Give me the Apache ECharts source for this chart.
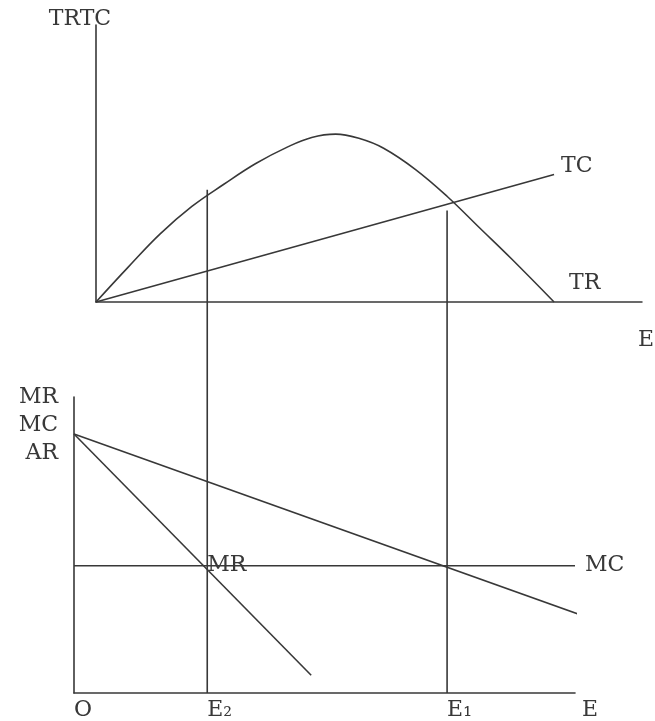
<!DOCTYPE html>
<html>
<head>
<meta charset="utf-8">
<script src="https://cdn.jsdelivr.net/npm/echarts@6/dist/echarts.min.js"></script>
<style>
  html, body { margin: 0; padding: 0; background: #fff; }
  #chart { width: 655px; height: 721px; }
</style>
</head>
<body>
<div id="chart"></div>
<script>
// top panel: total revenue and total cost against effort E
const trEffort = [0, 1.2, 2.4, 3.6, 4.8, 6, 7.2, 8.1, 9, 9.9, 10.8, 12, 13.2, 14.4, 15.6, 17.2]
const trValue = [0, 1.25, 2.45, 3.45, 4.25, 5, 5.6, 5.94, 6.06, 5.9, 5.55, 4.78, 3.8, 2.68, 1.56, 0]
const tcEffort = [0, 17.2]
const tcValue = [0, 4.6]

// bottom panel: marginal and average curves
const arEffort = [0, 19.6]
const arValue = [8.75, 2.45]
const mrEffort = [0, 8.9]
const mrValue = [8.75, 0.6]
const mcEffort = [0, 18.8]
const mcValue = [4.3, 4.3]

// E2 and E1 guides, in bottom-panel units, running up into the top panel
const eGuides = [5, 14]
const eGuideTops = [17.0, 16.3]
const eTickValues = [0, 5, 14]
const eTickLabels = ['O', 'E₂', 'E₁']

const ink = '#383838'
const font = 'DejaVu Serif'
const pairs = (xs, ys) => xs.map((x, i) => [x, ys[i]])

const plainAxis = {
  type: 'value',
  axisLine: { onZero: false, lineStyle: { color: ink, width: 1.6 } },
  axisTick: { show: false },
  axisLabel: { show: false },
  splitLine: { show: false }
}

const curve = (name, xs, ys, grid, extra) => Object.assign({
  name,
  type: 'line',
  xAxisIndex: grid,
  yAxisIndex: grid,
  data: pairs(xs, ys),
  symbol: 'none',
  silent: true,
  clip: false,
  lineStyle: { color: ink, width: 1.6 }
}, extra)

const endLabel = (text, distance, dy) => ({
  show: true,
  formatter: text,
  distance,
  offset: [0, dy],
  color: ink,
  fontFamily: font,
  fontSize: 22
})

const chart = echarts.init(document.getElementById('chart'))

chart.setOption({
  animation: false,
  grid: [
    { left: 96, top: 25, width: 546, height: 277 },
    { left: 74, top: 397, width: 501, height: 298 }
  ],
  xAxis: [
    {
      ...plainAxis,
      gridIndex: 0,
      min: 0,
      max: 20.5,
      name: 'E',
      nameLocation: 'end',
      nameGap: -4,
      nameTextStyle: { color: ink, fontFamily: font, fontSize: 22, align: 'left', verticalAlign: 'top', padding: [27, 0, 0, 0] }
    },
    {
      ...plainAxis,
      gridIndex: 1,
      min: 0,
      max: 18.8,
      name: 'E',
      nameLocation: 'end',
      nameGap: 7,
      nameTextStyle: { color: ink, fontFamily: font, fontSize: 22, align: 'left', verticalAlign: 'top', padding: [6, 0, 0, 0] },
      axisLabel: {
        show: true,
        customValues: eTickValues,
        formatter: v => eTickLabels[eTickValues.indexOf(v)],
        align: 'left',
        margin: 6,
        color: ink,
        fontFamily: font,
        fontSize: 22
      }
    }
  ],
  yAxis: [
    {
      ...plainAxis,
      gridIndex: 0,
      min: 0,
      max: 10,
      name: 'TRTC',
      nameLocation: 'end',
      nameGap: -5,
      nameTextStyle: { color: ink, fontFamily: font, fontSize: 22, align: 'center', verticalAlign: 'bottom', padding: [0, 32, 0, 0] }
    },
    {
      ...plainAxis,
      gridIndex: 1,
      min: 0,
      max: 10,
      name: 'MR\nMC\nAR',
      nameLocation: 'end',
      nameGap: 14,
      nameTextStyle: { color: ink, fontFamily: font, fontSize: 22, lineHeight: 28, align: 'right', verticalAlign: 'top', padding: [0, 16, 0, 0] }
    }
  ],
  series: [
    curve('TR', trEffort, trValue, 0, { smooth: 0.4, endLabel: endLabel('TR', 15, -19) }),
    curve('TC', tcEffort, tcValue, 0, { endLabel: endLabel('TC', 7, -8) }),
    curve('AR', arEffort, arValue, 1),
    curve('MR', mrEffort, mrValue, 1, {
      markPoint: {
        symbol: 'circle',
        symbolSize: 0,
        silent: true,
        data: [{ coord: [eGuides[0], mcValue[0]] }],
        label: { show: true, formatter: 'MR', position: 'right', distance: 0, color: ink, fontFamily: font, fontSize: 22 }
      }
    }),
    curve('MC', mcEffort, mcValue, 1, { endLabel: endLabel('MC', 10, 0) }),
    ...eGuides.map((e, i) => curve('guide' + i, [e, e], [0, eGuideTops[i]], 1))
  ]
})
</script>
</body>
</html>
